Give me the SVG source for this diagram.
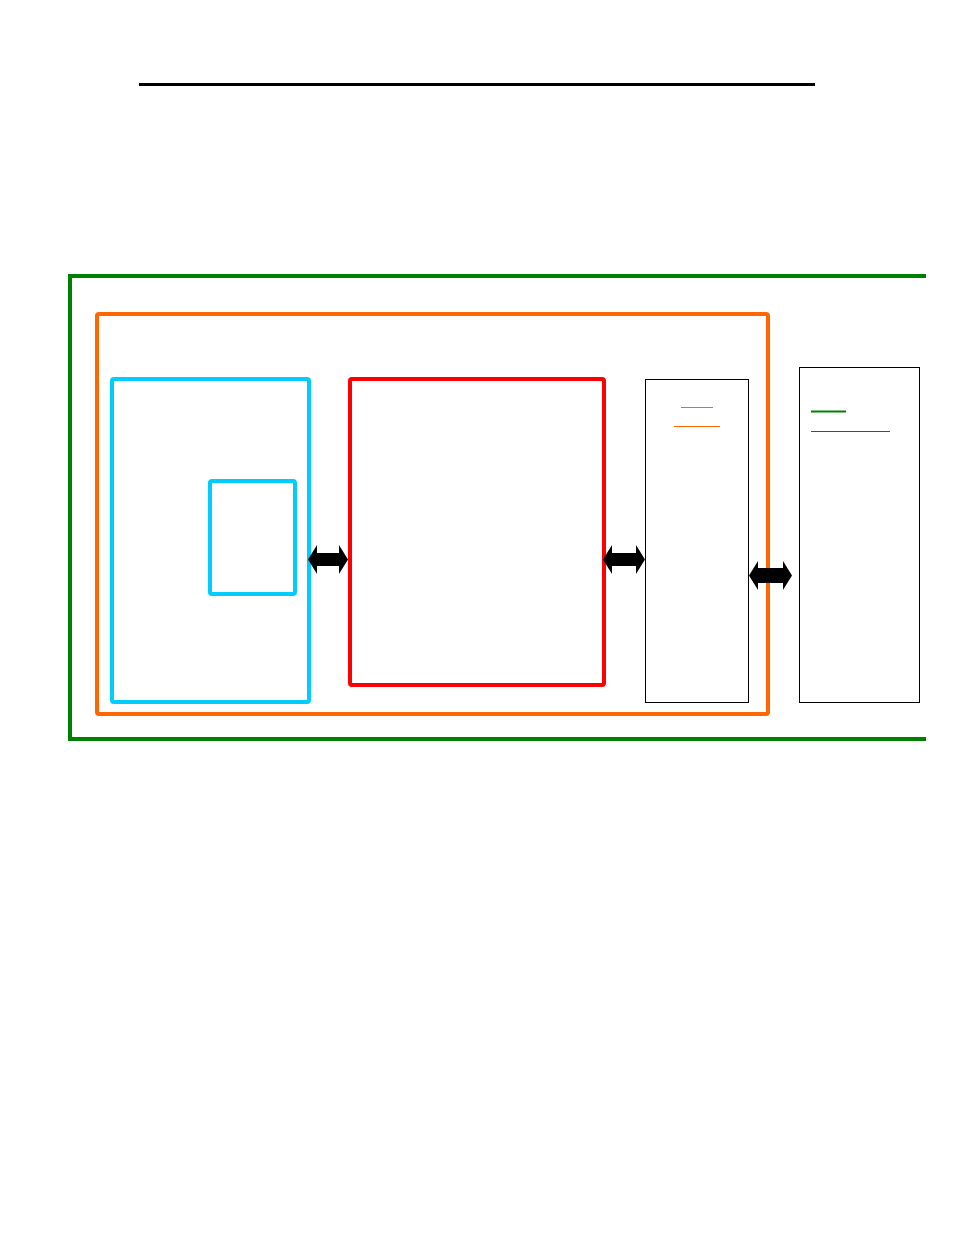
<svg xmlns="http://www.w3.org/2000/svg" width="954" height="1235" viewBox="0 0 954 1235">
<style>
.g{fill:none;stroke:#008000;stroke-width:4}
.o{fill:none;stroke:#ff6600;stroke-width:4;stroke-linejoin:round}
.c{fill:none;stroke:#00ccff;stroke-width:4;stroke-linejoin:round}
.r{fill:none;stroke:#ff0000;stroke-width:4;stroke-linejoin:round}
.b{fill:#fff;stroke:#000;stroke-width:1}
.arr{fill:#000;stroke:none}
</style>
<rect width="954" height="1235" fill="#fff"/>
<line x1="139" y1="84.5" x2="815" y2="84.5" stroke="#000" stroke-width="3"/>
<g id="system">
<path class="g" d="M926,276 H70 V739 H926"/>
</g>
<g id="platform">
<rect class="o" x="97" y="314" width="671" height="400" rx="2"/>
</g>
<g id="left-block">
<rect class="c" x="112" y="379" width="197" height="323" rx="2"/>
</g>
<g id="left-inner">
<rect class="c" x="210" y="481" width="85" height="113" rx="2"/>
</g>
<g id="core">
<rect class="r" x="350" y="379" width="254" height="306" rx="2"/>
</g>
<g id="interface">
<rect class="b" x="645.5" y="379.5" width="103" height="323"/>
<line x1="681" y1="407.5" x2="713" y2="407.5" stroke="#ff6600" stroke-width="1"/>
<line x1="674" y1="426.5" x2="720" y2="426.5" stroke="#ff6600" stroke-width="1"/>
</g>
<g id="external">
<rect class="b" x="799.5" y="367.5" width="120" height="335"/>
<line x1="811" y1="411.5" x2="846" y2="411.5" stroke="#008000" stroke-width="2"/>
<line x1="811" y1="431.5" x2="890" y2="431.5" stroke="#008000" stroke-width="1"/>
</g>
<g id="connectors">
<polygon class="arr" points="308,559.5 317,545 317,553 339,553 339,545 348,559.5 339,574 339,566 317,566 317,574"/>
<polygon class="arr" points="603,559.5 612,545 612,553 636,553 636,545 645,559.5 636,574 636,566 612,566 612,574"/>
<polygon class="arr" points="749,575.5 758,561 758,568 783,568 783,561 792,575.5 783,590 783,583 758,583 758,590"/>
</g>
</svg>
